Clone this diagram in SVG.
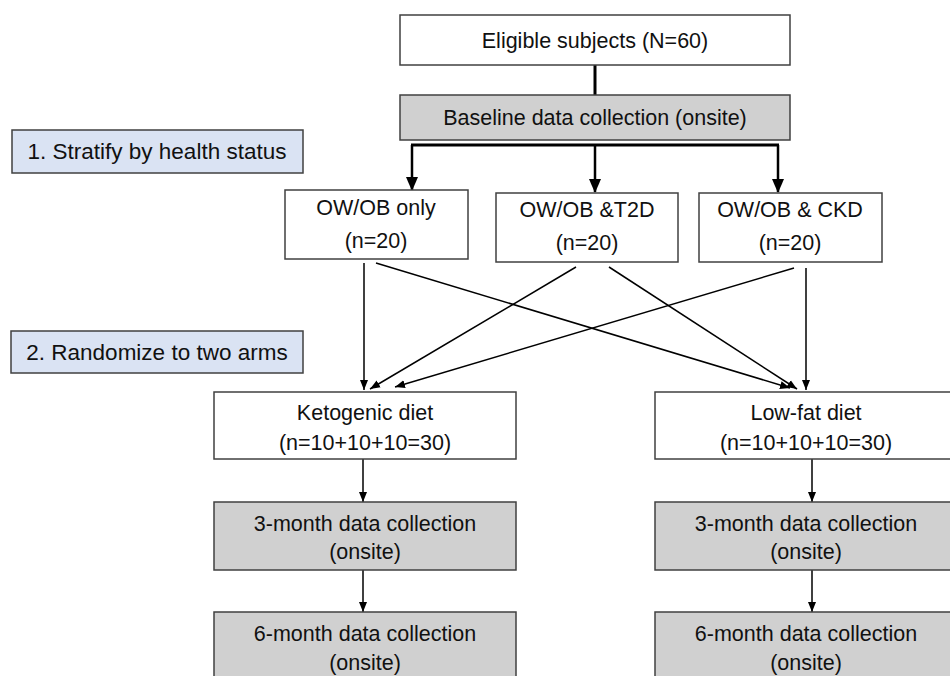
<svg xmlns="http://www.w3.org/2000/svg" width="950" height="676" viewBox="0 0 950 676">
<defs>
<style>
.box{fill:#ffffff;stroke:#404040;stroke-width:1.5}
.grey{fill:#d0d0d0;stroke:#404040;stroke-width:1.5}
.blue{fill:#dae3f3;stroke:#404040;stroke-width:1.5}
text{font-family:"Liberation Sans",Arial,sans-serif;font-size:21.5px;fill:#111111;text-anchor:middle}
.lab{font-size:22.5px}
.thick{stroke:#000;stroke-width:3;fill:none}
.mid{stroke:#000;stroke-width:2.5;fill:none}
.thin{stroke:#000;stroke-width:1.5;fill:none}
</style>
<marker id="ab" markerUnits="userSpaceOnUse" markerWidth="14" markerHeight="14" viewBox="0 0 14 14" refX="13" refY="7" orient="auto">
<path d="M0,1 L14,7 L0,13 Z" fill="#000"/>
</marker>
<marker id="as" markerUnits="userSpaceOnUse" markerWidth="10" markerHeight="10" viewBox="0 0 10 10" refX="10" refY="5" orient="auto">
<path d="M0,1 L10,5 L0,9 Z" fill="#000"/>
</marker>
</defs>
<rect width="950" height="676" fill="#ffffff"/>
<g id="connectors">
<line class="thick" x1="595" y1="65" x2="595" y2="95"/>
<line class="thick" x1="411" y1="145" x2="779" y2="145"/>
<line class="mid" x1="412" y1="145" x2="412" y2="190" marker-end="url(#ab)"/>
<line class="mid" x1="595" y1="145" x2="595" y2="192" marker-end="url(#ab)"/>
<line class="mid" x1="778" y1="145" x2="778" y2="192" marker-end="url(#ab)"/>
<line class="thin" x1="364" y1="263" x2="364" y2="390" marker-end="url(#as)"/>
<line class="thin" x1="376" y1="263" x2="790" y2="388" marker-end="url(#as)"/>
<line class="thin" x1="576" y1="267" x2="370" y2="389" marker-end="url(#as)"/>
<line class="thin" x1="609" y1="267" x2="797" y2="389" marker-end="url(#as)"/>
<line class="thin" x1="794" y1="268" x2="395" y2="387" marker-end="url(#as)"/>
<line class="thin" x1="806" y1="268" x2="806" y2="390" marker-end="url(#as)"/>
<line class="thin" x1="363" y1="459" x2="363" y2="502" marker-end="url(#as)"/>
<line class="thin" x1="363" y1="570" x2="363" y2="612" marker-end="url(#as)"/>
<line class="thin" x1="812" y1="459" x2="812" y2="502" marker-end="url(#as)"/>
<line class="thin" x1="812" y1="570" x2="812" y2="612" marker-end="url(#as)"/>
</g>
<g id="eligible">
<rect class="box" x="400" y="15" width="390" height="50"/>
<text x="595" y="48">Eligible subjects (N=60)</text>
</g>
<g id="baseline">
<rect class="grey" x="400" y="95" width="390" height="45"/>
<text x="595" y="125">Baseline data collection (onsite)</text>
</g>
<g id="stratify">
<rect class="blue" x="12" y="130" width="291" height="43"/>
<text class="lab" x="157" y="159">1. Stratify by health status</text>
</g>
<g id="randomize">
<rect class="blue" x="11" y="331" width="292" height="42"/>
<text class="lab" x="157" y="360">2. Randomize to two arms</text>
</g>
<g id="owob">
<rect class="box" x="285" y="190" width="183" height="69"/>
<text x="376" y="215">OW/OB only</text>
<text x="376" y="248">(n=20)</text>
</g>
<g id="owob-t2d">
<rect class="box" x="496" y="193" width="182" height="69"/>
<text x="587" y="217">OW/OB &amp;T2D</text>
<text x="587" y="250">(n=20)</text>
</g>
<g id="owob-ckd">
<rect class="box" x="699" y="193" width="183" height="69"/>
<text x="790" y="217">OW/OB &amp; CKD</text>
<text x="790" y="250">(n=20)</text>
</g>
<g id="keto">
<rect class="box" x="214" y="392" width="302" height="67"/>
<text x="365" y="420">Ketogenic diet</text>
<text x="365" y="450">(n=10+10+10=30)</text>
</g>
<g id="lowfat">
<rect class="box" x="655" y="392" width="302" height="67"/>
<text x="806" y="420">Low-fat diet</text>
<text x="806" y="450">(n=10+10+10=30)</text>
</g>
<g id="keto-3m">
<rect class="grey" x="214" y="502" width="302" height="68"/>
<text x="365" y="531">3-month data collection</text>
<text x="365" y="559">(onsite)</text>
</g>
<g id="lowfat-3m">
<rect class="grey" x="655" y="502" width="302" height="68"/>
<text x="806" y="531">3-month data collection</text>
<text x="806" y="559">(onsite)</text>
</g>
<g id="keto-6m">
<rect class="grey" x="214" y="612" width="302" height="80"/>
<text x="365" y="641">6-month data collection</text>
<text x="365" y="670">(onsite)</text>
</g>
<g id="lowfat-6m">
<rect class="grey" x="655" y="612" width="302" height="80"/>
<text x="806" y="641">6-month data collection</text>
<text x="806" y="670">(onsite)</text>
</g>
</svg>
